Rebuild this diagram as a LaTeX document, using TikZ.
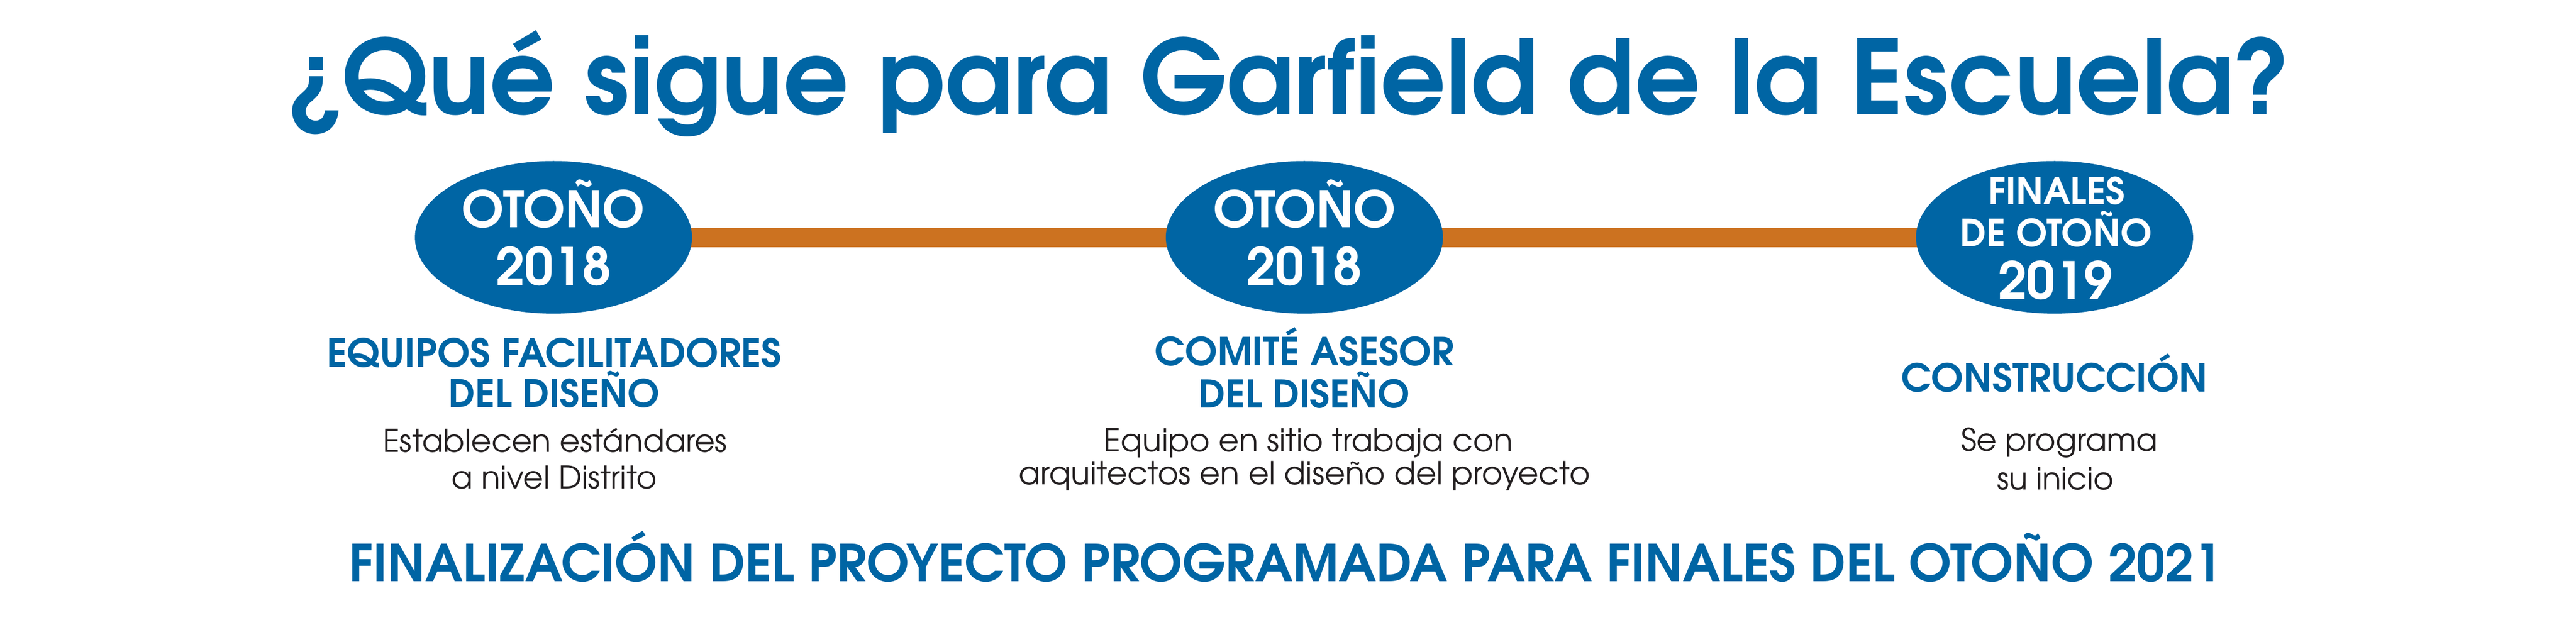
\documentclass[tikz,border=0pt]{standalone}
\usepackage{fontspec}
\setmainfont{TeX Gyre Adventor}
\usetikzlibrary{shapes.geometric,backgrounds}
\definecolor{gblue}{RGB}{0,101,164}
\definecolor{gorange}{RGB}{204,114,32}
\definecolor{gdark}{RGB}{35,31,32}
\newcommand{\fitw}[2]{\resizebox{#1}{!}{#2}}
\begin{document}
\begin{tikzpicture}[
  milestone/.style={ellipse, fill=gblue, minimum width=7.1cm, minimum height=3.91cm, inner sep=0pt},
  bar/.style={draw=gorange, line width=0.5cm},
  txt/.style={anchor=base, inner sep=0pt, outer sep=0pt},
  titletxt/.style={txt, text=gblue, font=\bfseries\fontsize{74}{74}\selectfont},
  datetxt/.style={txt, text=white, font=\bfseries\fontsize{31}{31}\selectfont},
  smalldate/.style={txt, text=white, font=\bfseries\fontsize{26.5}{26.5}\selectfont},
  bigdate/.style={txt, text=white, font=\bfseries\fontsize{34.6}{34.6}\selectfont},
  headtxt/.style={txt, text=gblue, font=\bfseries\fontsize{28}{28}\selectfont},
  bodytxt/.style={txt, text=gdark, font=\fontsize{21}{21}\selectfont},
  foottxt/.style={txt, text=gblue, font=\bfseries\fontsize{36}{36}\selectfont}
]
\useasboundingbox (0,0) rectangle (66,-16);

% title
\node[titletxt] (title) at (33.00,-2.92) {\fitw{51.42cm}{¿Qué sigue para Garfield de la Escuela?}};

% milestones
\node[milestone] (e1) at (14.18,-6.08) {};
\node[milestone] (e2) at (33.42,-6.08) {};
\node[milestone] (e3) at (52.64,-6.08) {};

\begin{scope}[on background layer]
  \fill[white] (0,0) rectangle (66,-16);
  \draw[bar] (e1.center) -- (e2.center);
  \draw[bar] (e2.center) -- (e3.center);
\end{scope}

% dates inside ellipses
\node[datetxt] (d1a) at (14.18,-5.83) {\fitw{4.68cm}{OTOÑO}};
\node[datetxt] (d1b) at (14.18,-7.31) {\fitw{2.96cm}{2018}};
\node[datetxt] (d2a) at (33.43,-5.83) {\fitw{4.68cm}{OTOÑO}};
\node[datetxt] (d2b) at (33.42,-7.31) {\fitw{2.96cm}{2018}};
\node[smalldate] (d3a) at (52.69,-5.23) {\fitw{3.50cm}{FINALES}};
\node[smalldate] (d3b) at (52.68,-6.31) {\fitw{4.91cm}{DE OTOÑO}};
\node[bigdate] (d3c) at (52.66,-7.66) {\fitw{2.94cm}{2019}};

% headings
\node[headtxt] (h1a) at (14.20,-9.40) {\fitw{11.65cm}{EQUIPOS FACILITADORES}};
\node[headtxt] (h1b) at (14.20,-10.43) {\fitw{5.41cm}{DEL DISEÑO}};
\node[headtxt] (h2a) at (33.42,-9.37) {\fitw{7.66cm}{COMITÉ ASESOR}};
\node[headtxt] (h2b) at (33.42,-10.45) {\fitw{5.41cm}{DEL DISEÑO}};
\node[headtxt] (h3a) at (52.64,-10.04) {\fitw{7.85cm}{CONSTRUCCIÓN}};

% body text
\node[bodytxt] (b1a) at (14.22,-11.58) {\fitw{8.82cm}{Establecen estándares}};
\node[bodytxt] (b1b) at (14.20,-12.52) {\fitw{5.25cm}{a nivel Distrito}};
\node[bodytxt] (b2a) at (33.52,-11.57) {\fitw{10.48cm}{Equipo en sitio trabaja con}};
\node[bodytxt] (b2b) at (33.42,-12.41) {\fitw{14.64cm}{arquitectos en el diseño del proyecto}};
\node[bodytxt] (b3a) at (52.76,-11.55) {\fitw{5.04cm}{Se programa}};
\node[bodytxt] (b3b) at (52.66,-12.54) {\fitw{2.99cm}{su inicio}};

% footer
\node[foottxt] (foot) at (32.94,-14.89) {\fitw{48.00cm}{FINALIZACIÓN DEL PROYECTO PROGRAMADA PARA FINALES DEL OTOÑO 2021}};
\end{tikzpicture}
\end{document}
